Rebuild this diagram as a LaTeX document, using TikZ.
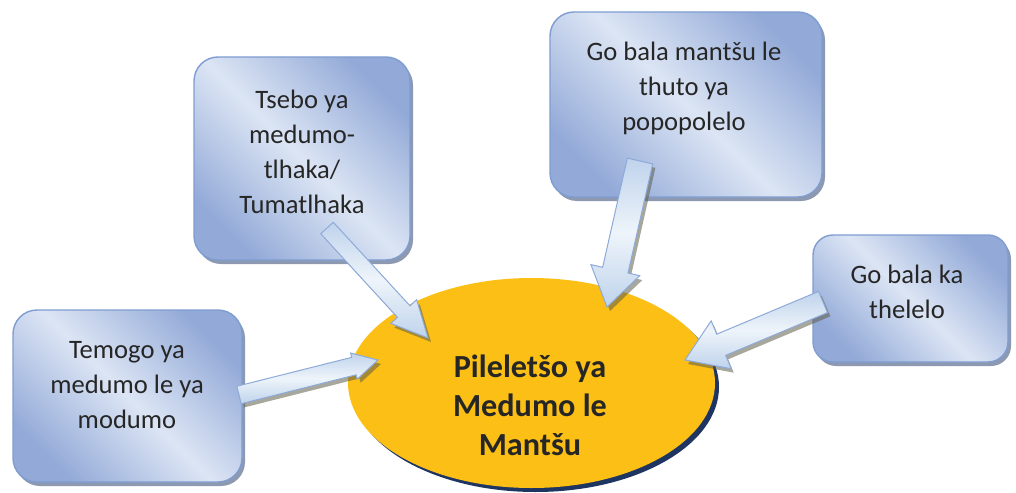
\documentclass[tikz,border=0pt]{standalone}
\usepackage{fontspec}
\setmainfont{Carlito}
\usetikzlibrary{shapes.geometric,shapes.arrows,shadows,calc}
\definecolor{boxdark}{HTML}{93AAD8}
\definecolor{boxlight}{HTML}{DCE5F4}
\definecolor{boxline}{HTML}{7F9DD1}
\definecolor{boxshadow}{HTML}{6F7F9C}
\definecolor{ellfill}{HTML}{FBBF15}
\definecolor{ellshadow}{HTML}{1F3561}
\definecolor{txt}{HTML}{262626}
\definecolor{arrline}{HTML}{8EAAD8}
\definecolor{arrA}{HTML}{BFD3EC}
\definecolor{arrB}{HTML}{EEF4FA}
\definecolor{arrshadow}{HTML}{5E5E4A}
\tikzset{
  box/.style={rounded corners=24pt, draw=boxline, line width=1.4pt,
    top color=boxdark, bottom color=boxdark, middle color=boxlight, shading angle=-45,
    drop shadow={shadow xshift=3pt, shadow yshift=-4pt, fill=boxshadow, opacity=0.8}},
  boxtext/.style={align=center, text=txt, font=\fontsize{26.6}{35}\selectfont},
  ctext/.style={align=center, text=txt, font=\bfseries\fontsize{32.2}{39}\selectfont},
  arrshape/.style n args={3}{single arrow, inner xsep=0pt, inner ysep=#1,
    single arrow head extend=#2, single arrow tip angle=#3,
    minimum width=0pt, outer sep=0pt, anchor=tail},
  arrbody/.style={draw=arrline, line width=1pt, top color=arrA, bottom color=arrA, middle color=arrB},
  arrshade/.style={fill=arrshadow, opacity=0.55, draw=none}
}
% #1 tail coordinate, #2 tip coordinate, #3 half shaft, #4 head extend, #5 tip angle
\newcommand\blockarrow[5]{%
  \path let \p1=(#1), \p2=(#2), \n1={atan2(\y2-\y1,\x2-\x1)}, \n2={veclen(\x2-\x1,\y2-\y1)} in
    node[arrshape={#3}{#4}{#5}, arrshade, rotate=\n1, minimum height=\n2] at ($(\p1)+(3pt,-4pt)$) {}
    node[arrshape={#3}{#4}{#5}, arrbody, rotate=\n1, minimum height=\n2] at (\p1) {};%
}
\begin{document}
\begin{tikzpicture}[x=1pt,y=-1pt]
\useasboundingbox (0,0) rectangle (1016,492);
% central ellipse
\node[ellipse, fill=ellshadow, minimum width=367pt, minimum height=210pt, inner sep=0pt] (cs) at (535.5,387) {};
\node[ellipse, fill=ellfill, minimum width=367pt, minimum height=210pt, inner sep=0pt] (c) at (531.5,383) {};
% boxes
\node[box, minimum width=216pt, minimum height=203pt] (b1) at (302,158.5) {};
\node[box, minimum width=272pt, minimum height=185pt] (b2) at (686,104.5) {};
\node[box, minimum width=195pt, minimum height=127pt, rounded corners=20pt] (b3) at (910.5,298.5) {};
\node[box, minimum width=229pt, minimum height=172pt] (b4) at (127.5,396) {};
\node[boxtext] (t1) at (302,152) {Tsebo ya\\medumo-\\tlhaka/\\Tumatlhaka};
\node[boxtext] (t2) at (684,88) {Go bala mantšu le\\thuto ya\\popopolelo};
\node[boxtext] (t3) at (907,292) {Go bala ka\\thelelo};
\node[boxtext] (t4) at (127,385) {Temogo ya\\medumo le ya\\modumo};
% arrow ends
\coordinate (a1t) at (327,228); \coordinate (a1h) at (428,338);
\coordinate (a2t) at (640,161); \coordinate (a2h) at (607,307);
\coordinate (a3t) at (823,302); \coordinate (a3h) at (685,360);
\coordinate (a4t) at (239,395); \coordinate (a4h) at (378,360);
\blockarrow{a1t}{a1h}{8pt}{9pt}{52}
\blockarrow{a2t}{a2h}{12.5pt}{12pt}{67}
\blockarrow{a3t}{a3h}{11pt}{14.5pt}{67}
\blockarrow{a4t}{a4h}{8.5pt}{4.5pt}{57}
% centre text
\node[ctext] (tc) at (530,405) {Pileletšo ya\\Medumo le\\Mantšu};
\end{tikzpicture}
\end{document}
